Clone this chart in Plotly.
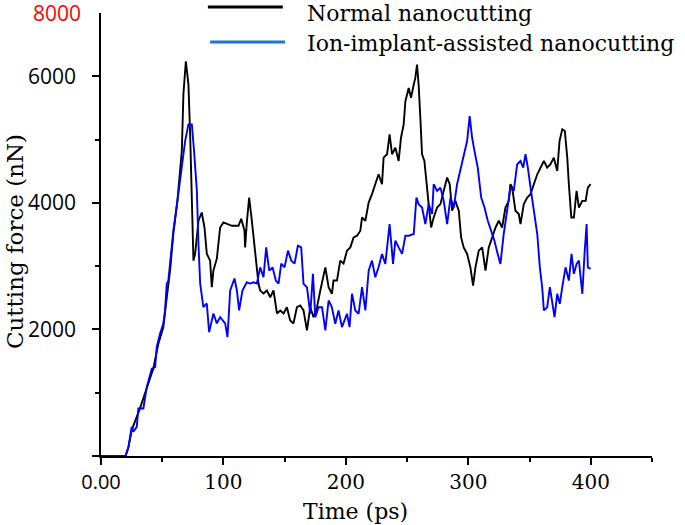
import plotly.graph_objects as go

# ---- data (time in ps, force in nN) ----
time_normal = [
    0, 20, 22.3, 25.1, 31.9, 38.7, 42.8, 46.9, 50.9, 53.7,
    56.4, 59.1, 62.4, 66.0, 67.3, 69.3, 71.4, 72.8, 75.5, 76.9,
    79.6, 82.3, 84.5, 86.4, 89.1, 90.5, 91.8, 94.6, 97.3, 100.0,
    106.9, 112.3, 114.5, 117.2, 117.7, 119.1, 121.0, 123.2, 125.3, 127.3,
    128.6, 130.0, 132.7, 135.5, 138.2, 140.9, 143.7, 146.4, 149.1, 151.8,
    154.5, 157.2, 160.0, 162.7, 165.4, 168.2, 170.9, 173.6, 176.4, 179.1,
    183.2, 185.9, 188.6, 189.9, 192.7, 195.4, 198.1, 200.9, 203.6, 206.3,
    209.1, 211.8, 213.2, 215.9, 218.6, 221.3, 224.0, 226.7, 229.5, 230.8,
    233.6, 235.7, 237.7, 240.4, 243.1, 245.0, 247.2, 248.6, 251.3, 253.2,
    255.4, 256.7, 258.1, 259.4, 260.8, 262.2, 264.1, 266.3, 267.6, 269.6,
    271.7, 274.5, 277.2, 279.9, 282.7, 284.8, 286.8, 289.4, 292.2, 294.1,
    296.2, 299.0, 301.7, 303.9, 305.8, 308.5, 311.3, 314.0, 316.7, 319.5,
    322.2, 324.9, 327.6, 330.3, 333.0, 334.4, 335.8, 338.5, 341.2, 342.6,
    345.3, 348.1, 350.8, 353.5, 356.3, 359.0, 361.7, 364.4, 367.1, 369.8,
    372.6, 374.5, 376.7, 378.8, 380.8, 382.1, 384.1, 386.2, 388.4, 390.3,
    393.1, 395.8, 397.6, 399.8,
]
force_normal = [
    0, 0, 126, 410, 756, 1150, 1386, 1780, 2032, 2504,
    2930, 3512, 4032, 4820, 5717, 6237, 5875, 5087, 3087, 3197,
    3717, 3848, 3611, 3197, 3087, 2667, 2930, 3119, 3611, 3690,
    3638, 3638, 3749, 3560, 3296, 3690, 4084, 3717, 3355, 2930,
    2725, 2615, 2567, 2615, 2509, 2615, 2252, 2300, 2252, 2351,
    2142, 2095, 2351, 2378, 2300, 1985, 2351, 2194, 2351, 2615,
    2981, 2667, 2563, 2772, 2772, 3087, 3040, 3245, 3296, 3454,
    3481, 3560, 3769, 3717, 4005, 4138, 4295, 4452, 4295, 4714,
    4768, 5083, 4768, 4871, 4662, 5029, 5240, 5607, 5816, 5659,
    5870, 5974, 6185, 5870, 5344, 4768, 4662, 4295, 3980, 3611,
    3769, 3926, 3980, 4190, 4399, 4295, 3875, 4032, 3875, 3454,
    3296, 3193, 2981, 2693, 2981, 3245, 3296, 2930, 3296, 3454,
    3611, 3717, 3611, 3926, 4032, 4295, 4241, 3875, 3823, 3665,
    3980, 4084, 4138, 4295, 4452, 4556, 4662, 4556, 4610, 4714,
    4505, 4977, 5161, 5135, 4714, 4295, 3769, 3769, 4190, 3926,
    4032, 4032, 4241, 4295,
]

time_ion = [
    0, 20, 22.5, 25.1, 26.4, 29.2, 30.5, 34.6, 37.4, 41.5,
    44.2, 45.5, 48.2, 50.9, 52.3, 53.7, 55.0, 56.4, 59.1, 62.4,
    66.0, 68.7, 71.4, 74.2, 76.0, 78.3, 79.6, 81.0, 83.6, 86.4,
    88.3, 91.8, 94.6, 97.3, 101.4, 103.3, 105.5, 109.0, 111.0, 112.8,
    115.5, 119.1, 121.8, 124.5, 127.3, 130.0, 132.7, 134.9, 137.4, 140.1,
    142.8, 145.0, 147.2, 149.9, 152.7, 155.4, 158.1, 160.8, 163.5, 165.4,
    168.2, 170.9, 173.1, 175.0, 177.7, 180.5, 183.2, 185.9, 188.6, 191.3,
    194.0, 196.8, 200.9, 203.0, 205.0, 207.7, 210.4, 213.2, 215.9, 218.6,
    221.3, 224.0, 226.7, 229.5, 232.2, 235.7, 238.5, 240.4, 243.1, 245.9,
    248.6, 251.3, 255.4, 257.6, 259.4, 262.2, 264.9, 267.6, 270.4, 271.7,
    274.5, 277.2, 279.9, 282.7, 285.4, 288.1, 290.8, 293.5, 296.2, 299.0,
    301.1, 303.1, 305.0, 307.7, 310.5, 313.2, 315.9, 318.6, 321.3, 324.0,
    326.2, 328.9, 331.6, 334.4, 337.1, 339.9, 342.6, 344.8, 346.7, 348.6,
    350.8, 353.5, 356.3, 358.4, 360.3, 361.7, 364.4, 366.6, 368.5, 370.4,
    372.6, 374.7, 376.7, 379.4, 382.1, 384.3, 386.2, 388.4, 390.3, 393.1,
    394.9, 396.6, 397.6, 399.8,
]
force_ion = [
    0, 0, 150, 461, 383, 461, 751, 751, 1091, 1381,
    1406, 1721, 1932, 2090, 2300, 2720, 2772, 3035, 3560, 4032,
    4610, 4977, 5240, 5240, 4820, 4190, 3350, 2725, 2351, 2410,
    1958, 2252, 2095, 2194, 2095, 1879, 2615, 2804, 2615, 2300,
    2615, 2745, 2725, 2745, 2725, 2981, 2824, 3296, 2930, 2981,
    2772, 2725, 3040, 2981, 3245, 3087, 3040, 3323, 3296, 2720,
    2667, 2248, 2878, 2194, 2351, 2351, 1985, 2457, 2351, 2090,
    2300, 2036, 2248, 2036, 2563, 2300, 2248, 2667, 2300, 2930,
    3087, 2824, 2981, 3193, 3035, 3665, 3035, 3402, 3296, 3193,
    3481, 3481, 3508, 4084, 3980, 3926, 3665, 3980, 3823, 4295,
    4190, 4241, 4032, 3665, 4084, 3926, 4295, 4505, 4714, 4977,
    5371, 5029, 4820, 4556, 4084, 3926, 3717, 3560, 3402, 3193,
    3035, 3508, 3875, 4241, 4190, 4610, 4662, 4556, 4768, 4556,
    4241, 3875, 3508, 2981, 2667, 2300, 2351, 2667, 2457, 2194,
    2563, 2405, 2667, 2981, 2772, 3193, 2878, 3035, 3087, 2563,
    3193, 3665, 2981, 2956,
]

series_names = ["Normal nanocutting", "Ion-implant-assisted nanocutting"]
x_tick_vals = [0, 100, 200, 300, 400]
x_tick_text = ['<span style="font-family:Open Sans">0.00</span>', "100", "200", "300", "400"]
y_tick_vals = [0, 2000, 4000, 6000]
y_tick_text = ["", "2000", "4000", "6000"]
y_top_label = "8000"

SERIF = "DejaVu Serif"
SANS = "Open Sans"

fig = go.Figure()
fig.add_trace(go.Scatter(x=time_normal, y=force_normal, mode="lines",
                         line=dict(color="black", width=1.9), name=series_names[0]))
fig.add_trace(go.Scatter(x=time_ion, y=force_ion, mode="lines",
                         line=dict(color="#0000ff", width=1.9), name=series_names[1]))

fig.update_layout(
    width=685, height=525,
    margin=dict(l=101, r=33, t=13, b=69),
    plot_bgcolor="white", paper_bgcolor="white",
    showlegend=False,
)

fig.update_xaxes(
    range=[0, 450], showgrid=False, zeroline=False,
    showline=True, linecolor="black", linewidth=1.5,
    tickmode="array", tickvals=x_tick_vals, ticktext=x_tick_text,
    ticks="outside", ticklen=7, tickwidth=1.5, tickcolor="black",
    tickfont=dict(family=SERIF, size=20, color="black"),
    minor=dict(tickmode="array", tickvals=[50, 150, 250, 350, 450], ticks="outside",
               ticklen=4, tickwidth=1.5, tickcolor="black"),
)
fig.update_yaxes(
    range=[0, 7000], showgrid=False, zeroline=False,
    showline=True, linecolor="black", linewidth=1.5,
    tickmode="array", tickvals=y_tick_vals, ticktext=y_tick_text,
    ticks="outside", ticklen=7, tickwidth=1.5, tickcolor="black",
    ticklabelstandoff=12,
    tickfont=dict(family=SANS, size=21, color="black"),
    minor=dict(tickmode="array", tickvals=[1000, 3000, 5000], ticks="outside",
               ticklen=4, tickwidth=1.5, tickcolor="black"),
)

# red top label
fig.add_annotation(x=0, xref="paper", y=7000, yref="y", text=y_top_label,
                   showarrow=False, xanchor="right", yanchor="middle", xshift=-18,
                   font=dict(family=SANS, size=21, color="red"))

# axis titles
fig.add_annotation(x=-0.156, y=0.483, xref="paper", yref="paper", text="Cutting force (nN)",
                   textangle=-90, showarrow=False, xanchor="center", yanchor="middle",
                   font=dict(family=SERIF, size=23, color="black"))
fig.add_annotation(x=0.461, y=-0.126, xref="paper", yref="paper", text="Time (ps)",
                   showarrow=False, xanchor="center", yanchor="middle",
                   font=dict(family=SERIF, size=22, color="black"))

# legend (manual)
fig.add_shape(type="line", xref="paper", yref="paper", x0=0.194, x1=0.330, y0=1.0135, y1=1.0135,
              line=dict(color="black", width=3))
fig.add_shape(type="line", xref="paper", yref="paper", x0=0.198, x1=0.334, y0=0.9345, y1=0.9345,
              line=dict(color="#1976d2", width=3))
fig.add_annotation(x=0.370, y=1.0, xref="paper", yref="paper", text=series_names[0],
                   showarrow=False, xanchor="left", yanchor="middle",
                   font=dict(family=SERIF, size=22, color="black"))
fig.add_annotation(x=0.370, y=0.932, xref="paper", yref="paper", text=series_names[1],
                   showarrow=False, xanchor="left", yanchor="middle",
                   font=dict(family=SERIF, size=22, color="black"))

fig.write_html("out.html", config={"displayModeBar": False},
               post_script="document.body.style.margin='0px';")
